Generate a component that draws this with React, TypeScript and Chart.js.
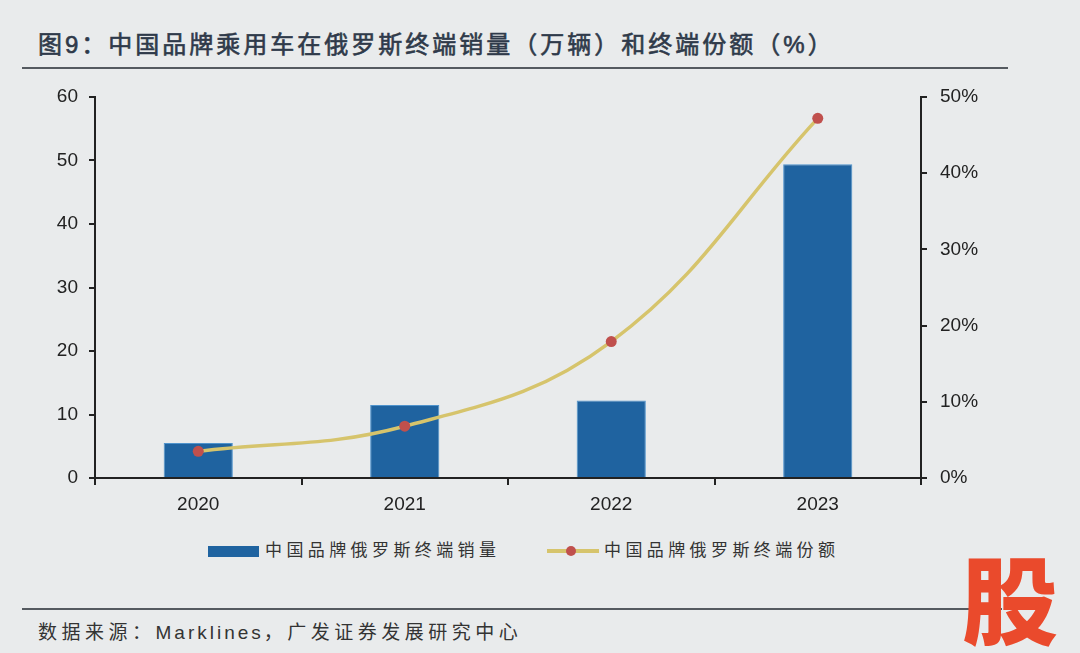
import React, { useEffect, useRef } from "react";
import { Chart, registerables } from "chart.js";

Chart.register(...registerables);

const years = ["2020", "2021", "2022", "2023"];
const salesWan = [5.5, 11.5, 12.2, 49.4];
const sharePct = [3.5, 6.8, 17.9, 47.2];
const leftMax = 60;
const leftStep = 10;
const rightMax = 50;
const rightStep = 10;

const titleText = "图9：中国品牌乘用车在俄罗斯终端销量（万辆）和终端份额（%）";
const barLabel = "中国品牌俄罗斯终端销量";
const lineLabel = "中国品牌俄罗斯终端份额";
const sourceHead = "数据来源：";
const sourceName = "Marklines";
const sourceTail = "，广发证券发展研究中心";

const BG = "#e9ebec";
const BAR = "#1f63a0";
const LINE = "#d6c46c";
const DOT = "#c0504d";
const AXIS = "#222222";
const FONT = "'Liberation Sans', 'Noto Sans CJK SC', sans-serif";

export default function App() {
  const ref = useRef<HTMLCanvasElement | null>(null);

  useEffect(() => {
    document.body.style.margin = "0";
    const ctx = ref.current!.getContext("2d")!;
    const chart = new Chart(ctx, {
      type: "bar",
      data: {
        labels: years,
        datasets: [
          {
            type: "line",
            label: lineLabel,
            data: sharePct,
            yAxisID: "y1",
            borderColor: LINE,
            borderWidth: 3.5,
            tension: 0.4,
            pointRadius: 5.5,
            pointHoverRadius: 5.5,
            pointBackgroundColor: DOT,
            pointBorderColor: DOT,
            pointBorderWidth: 0,
            order: 0,
          } as any,
          {
            type: "bar",
            label: barLabel,
            data: salesWan,
            yAxisID: "y",
            backgroundColor: BAR,
            borderColor: "#4f93cc",
            borderWidth: 1,
            barPercentage: 0.335,
            categoryPercentage: 1,
            order: 1,
          },
        ],
      },
      options: {
        responsive: true,
        maintainAspectRatio: false,
        animation: false,
        layout: { padding: { top: 27, left: 0, right: 0, bottom: 0 } },
        plugins: {
          legend: { display: false },
          tooltip: { enabled: false },
        },
        scales: {
          x: {
            offset: true,
            grid: {
              offset: true,
              drawOnChartArea: false,
              drawTicks: true,
              tickLength: 7,
              color: AXIS,
              lineWidth: 2,
            },
            border: { color: AXIS, width: 2 },
            ticks: {
              color: AXIS,
              font: { family: FONT, size: 19 },
              padding: 8,
            },
            afterFit: (s: any) => {
              s.height = 52;
            },
          },
          y: {
            position: "left",
            min: 0,
            max: leftMax,
            grid: {
              drawOnChartArea: false,
              drawTicks: true,
              tickLength: 6,
              color: AXIS,
              lineWidth: 2,
            },
            border: { color: AXIS, width: 2 },
            ticks: {
              stepSize: leftStep,
              color: AXIS,
              font: { family: FONT, size: 19 },
              padding: 11,
            },
            afterFit: (s: any) => {
              s.width = 95;
            },
          },
          y1: {
            position: "right",
            min: 0,
            max: rightMax,
            grid: {
              drawOnChartArea: false,
              drawTicks: true,
              tickLength: 6,
              color: AXIS,
              lineWidth: 2,
            },
            border: { color: AXIS, width: 2 },
            ticks: {
              stepSize: rightStep,
              color: AXIS,
              font: { family: FONT, size: 19 },
              padding: 13,
              callback: (v: any) => v + "%",
            },
            afterFit: (s: any) => {
              s.width = 159;
            },
          },
        },
      },
    });
    return () => chart.destroy();
  }, []);

  return (
    <div
      style={{
        position: "absolute",
        left: 0,
        top: 0,
        width: 1080,
        height: 653,
        background: BG,
        overflow: "hidden",
        fontFamily: FONT,
      }}
    >
      <div
        style={{
          position: "absolute",
          left: 38,
          top: 30,
          fontSize: 24,
          fontWeight: 400,
          letterSpacing: 3,
          color: "#2f3a4a",
          whiteSpace: "nowrap",
          lineHeight: "30px",
          WebkitTextStroke: "0.6px #2f3a4a",
        }}
      >
        {titleText}
      </div>
      <div
        style={{
          position: "absolute",
          left: 22,
          top: 67,
          width: 986,
          height: 2,
          background: "#555a60",
        }}
      />
      <div
        style={{
          position: "absolute",
          left: 0,
          top: 70,
          width: 1080,
          height: 460,
        }}
      >
        <canvas ref={ref} />
      </div>
      {/* legend */}
      <div
        style={{
          position: "absolute",
          left: 208,
          top: 546,
          width: 51,
          height: 11,
          background: BAR,
        }}
      />
      <div
        style={{
          position: "absolute",
          left: 265,
          top: 539,
          fontSize: 17,
          letterSpacing: 4.4,
          color: "#333",
          whiteSpace: "nowrap",
          lineHeight: "24px",
        }}
      >
        {barLabel}
      </div>
      <div
        style={{
          position: "absolute",
          left: 547,
          top: 549,
          width: 52,
          height: 4,
          background: LINE,
        }}
      />
      <div
        style={{
          position: "absolute",
          left: 566,
          top: 546,
          width: 10,
          height: 10,
          borderRadius: 5,
          background: DOT,
        }}
      />
      <div
        style={{
          position: "absolute",
          left: 604,
          top: 539,
          fontSize: 17,
          letterSpacing: 4.4,
          color: "#333",
          whiteSpace: "nowrap",
          lineHeight: "24px",
        }}
      >
        {lineLabel}
      </div>
      <div
        style={{
          position: "absolute",
          left: 22,
          top: 608,
          width: 980,
          height: 2,
          background: "#555a60",
        }}
      />
      <div
        style={{
          position: "absolute",
          left: 38,
          top: 620,
          fontSize: 19,
          color: "#333",
          whiteSpace: "nowrap",
          lineHeight: "26px",
        }}
      >
        <span style={{ letterSpacing: 4.5 }}>{sourceHead}</span>
        <span style={{ letterSpacing: 3 }}>{sourceName}</span>
        <span style={{ letterSpacing: 4.5 }}>{sourceTail}</span>
      </div>
      <div
        style={{
          position: "absolute",
          left: 962,
          top: 546,
          fontSize: 96,
          fontWeight: 900,
          color: "#ea4a2c",
          fontFamily: "'Noto Sans CJK SC', sans-serif",
          lineHeight: "100px",
        }}
      >
        股
      </div>
    </div>
  );
}
